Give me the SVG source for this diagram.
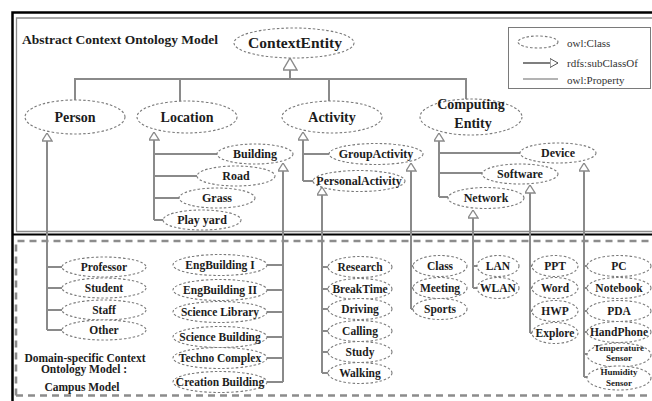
<svg xmlns="http://www.w3.org/2000/svg" width="652" height="401" viewBox="0 0 652 401">
  <style>
    .cls { fill: #ffffff; stroke: #7a7a7a; stroke-width: 1.1; stroke-dasharray: 2.5 2; }
    .t { font-family: "Liberation Serif", "Times New Roman", serif; font-weight: bold; fill: #1c1c1c; text-anchor: middle; }
    .big { font-size: 15.5px; }
    .mid { font-size: 14px; }
    .sm { font-size: 12px; }
    .xs { font-size: 11.5px; }
    .tiny { font-size: 9px; }
    .conn { stroke: #8a8a8a; stroke-width: 2; fill: none; }
    .leg { font-family: "Liberation Serif", "Times New Roman", serif; font-size: 11px; fill: #333333; }
  </style>
  <defs>
    <marker id="sub" markerUnits="userSpaceOnUse" markerWidth="9" markerHeight="11" refX="8.5" refY="5.5" orient="auto">
      <path d="M0.5,0.5 L8.5,5.5 L0.5,10.5 z" fill="#ffffff" stroke="#8a8a8a" stroke-width="1.3"/>
    </marker>
    <marker id="subL" markerUnits="userSpaceOnUse" markerWidth="13" markerHeight="15" refX="12.5" refY="7.5" orient="auto">
      <path d="M0.5,0.5 L12.5,7.5 L0.5,14.5 z" fill="#ffffff" stroke="#8a8a8a" stroke-width="1.4"/>
    </marker>
    <marker id="subLeg" markerUnits="userSpaceOnUse" markerWidth="9" markerHeight="10" refX="8.5" refY="5" orient="auto">
      <path d="M0.5,0.5 L8.5,5 L0.5,9.5 z" fill="#ffffff" stroke="#555555" stroke-width="1"/>
    </marker>
  </defs>

  <rect width="652" height="401" fill="#ffffff"/>

  <!-- frames -->
  <g id="frames">
    <path d="M12.5,401 V12.5 H652" fill="none" stroke="#000000" stroke-width="2.5"/>
    <path d="M12,234.5 H652" fill="none" stroke="#000000" stroke-width="2"/>
    <path d="M16.5,232 V18 H652 M16.5,231.5 H652" fill="none" stroke="#8c8c8c" stroke-width="1.3"/>
    <path d="M16,395.5 V241 H652 M16,395.5 H652" fill="none" stroke="#8c8c8c" stroke-width="2.6" stroke-dasharray="7 5"/>
    <text x="22" y="44" class="t" style="font-size:13.5px;text-anchor:start">Abstract Context Ontology Model</text>
  </g>

  <!-- legend -->
  <g id="legend">
    <rect x="508.5" y="27.5" width="142" height="61" fill="#ffffff" stroke="#7a7a7a" stroke-width="1"/>
    <ellipse class="cls" cx="538" cy="42" rx="20" ry="6"/>
    <text x="567" y="47" class="leg">owl:Class</text>
    <line x1="523" y1="63" x2="558" y2="63" stroke="#555555" stroke-width="1.3" marker-end="url(#subLeg)"/>
    <text x="567" y="67" class="leg">rdfs:subClassOf</text>
    <line x1="523" y1="79" x2="558" y2="79" stroke="#9a9a9a" stroke-width="1.5"/>
    <text x="567" y="84" class="leg">owl:Property</text>
  </g>

  <!-- connectors -->
  <g id="connectors">
    <!-- top level -->
    <path class="conn" d="M75,100 V79 H466 V100 M180,79 V101 M329,79 V101"/>
    <line class="conn" x1="290" y1="79" x2="290" y2="58" marker-end="url(#subL)"/>
    <!-- Person -->
    <line class="conn" x1="47" y1="330" x2="47" y2="133" marker-end="url(#sub)"/>
    <path class="conn" d="M47,267 H62 M47,288 H62 M47,310 H62 M47,330 H62"/>
    <!-- Location -->
    <line class="conn" x1="154" y1="220" x2="154" y2="132" marker-end="url(#sub)"/>
    <path class="conn" d="M154,154 H218 M154,176 H197 M154,198 H180 M154,220 H164"/>
    <line class="conn" x1="283" y1="382" x2="283" y2="163" marker-end="url(#sub)"/>
    <path class="conn" d="M267,265 H283 M267,290 H283 M267,312 H283 M267,337 H283 M267,358 H283 M267,382 H283"/>
    <!-- Activity -->
    <line class="conn" x1="303" y1="181" x2="303" y2="132" marker-end="url(#sub)"/>
    <path class="conn" d="M303,154 H330 M303,181 H314"/>
    <line class="conn" x1="411" y1="309" x2="411" y2="163" marker-end="url(#sub)"/>
    <path class="conn" d="M411,266 H414 M411,288 H414 M411,309 H414"/>
    <line class="conn" x1="322" y1="373" x2="322" y2="187" marker-end="url(#sub)"/>
    <path class="conn" d="M322,267 H329 M322,289 H329 M322,309 H329 M322,331 H329 M322,352 H329 M322,373 H329"/>
    <!-- Computing Entity -->
    <line class="conn" x1="439" y1="197" x2="439" y2="133" marker-end="url(#sub)"/>
    <path class="conn" d="M439,153 H520 M439,173 H482 M439,197 H448"/>
    <line class="conn" x1="584" y1="377" x2="584" y2="163" marker-end="url(#sub)"/>
    <path class="conn" d="M584,266 H588 M584,288 H588 M584,311 H588 M584,332 H588 M584,354 H588 M584,377 H588"/>
    <line class="conn" x1="530" y1="333" x2="530" y2="185" marker-end="url(#sub)"/>
    <path class="conn" d="M530,266 H533 M530,288 H533 M530,311 H533 M530,333 H533"/>
    <line class="conn" x1="473" y1="288" x2="473" y2="210" marker-end="url(#sub)"/>
    <path class="conn" d="M473,266 H478 M473,288 H478"/>
  </g>

  <!-- abstract classes -->
  <g id="n-context-entity"><ellipse class="cls" cx="294" cy="43" rx="60" ry="15"/><text x="295" y="48" class="t big">ContextEntity</text></g>
  <g id="n-person"><ellipse class="cls" cx="75" cy="117" rx="50" ry="17"/><text x="75" y="122" class="t mid">Person</text></g>
  <g id="n-location"><ellipse class="cls" cx="187" cy="117" rx="50" ry="16"/><text x="187" y="122" class="t mid">Location</text></g>
  <g id="n-activity"><ellipse class="cls" cx="332" cy="117" rx="50" ry="16"/><text x="332" y="122" class="t mid">Activity</text></g>
  <g id="n-computing-entity"><ellipse class="cls" cx="471" cy="117" rx="51" ry="18"/><text x="471" y="109" class="t mid">Computing</text><text x="473" y="128" class="t mid">Entity</text></g>

  <g id="n-building"><ellipse class="cls" cx="255" cy="154" rx="38" ry="10"/><text x="255" y="158" class="t sm">Building</text></g>
  <g id="n-road"><ellipse class="cls" cx="236" cy="176" rx="39" ry="10"/><text x="236" y="180" class="t sm">Road</text></g>
  <g id="n-grass"><ellipse class="cls" cx="217" cy="198" rx="38" ry="10"/><text x="217" y="202" class="t sm">Grass</text></g>
  <g id="n-play-yard"><ellipse class="cls" cx="202" cy="220" rx="39" ry="10"/><text x="202" y="224" class="t sm">Play yard</text></g>

  <g id="n-group-activity"><ellipse class="cls" cx="376" cy="154" rx="47" ry="10.5"/><text x="376" y="158" class="t sm">GroupActivity</text></g>
  <g id="n-personal-activity"><ellipse class="cls" cx="359" cy="181" rx="46" ry="10.5"/><text x="359" y="185" class="t sm">PersonalActivity</text></g>

  <g id="n-device"><ellipse class="cls" cx="558" cy="153" rx="38" ry="10"/><text x="558" y="157" class="t sm">Device</text></g>
  <g id="n-software"><ellipse class="cls" cx="520" cy="174" rx="38" ry="10"/><text x="520" y="178" class="t sm">Software</text></g>
  <g id="n-network"><ellipse class="cls" cx="486" cy="198" rx="38" ry="10.5"/><text x="486" y="202" class="t sm">Network</text></g>

  <!-- campus model classes -->
  <g id="n-professor"><ellipse class="cls" cx="104" cy="267" rx="42" ry="10"/><text x="104" y="271" class="t xs">Professor</text></g>
  <g id="n-student"><ellipse class="cls" cx="104" cy="288" rx="42" ry="10"/><text x="104" y="292" class="t xs">Student</text></g>
  <g id="n-staff"><ellipse class="cls" cx="104" cy="310" rx="42" ry="10"/><text x="104" y="314" class="t xs">Staff</text></g>
  <g id="n-other"><ellipse class="cls" cx="104" cy="330" rx="42" ry="10"/><text x="104" y="334" class="t xs">Other</text></g>

  <g id="n-domain-caption">
    <text x="85" y="362" class="t xs">Domain-specific Context</text>
    <text x="84" y="373" class="t xs">Ontology Model :</text>
    <text x="82" y="391" class="t xs">Campus Model</text>
  </g>

  <g id="n-engbuilding-1"><ellipse class="cls" cx="220" cy="265" rx="47" ry="10.5"/><text x="220" y="269" class="t xs">EngBuilding I</text></g>
  <g id="n-engbuilding-2"><ellipse class="cls" cx="220" cy="290" rx="47" ry="10.5"/><text x="220" y="294" class="t xs">EngBuilding II</text></g>
  <g id="n-science-library"><ellipse class="cls" cx="220" cy="312" rx="47" ry="10.5"/><text x="220" y="316" class="t xs">Science Library</text></g>
  <g id="n-science-building"><ellipse class="cls" cx="220" cy="337" rx="47" ry="10.5"/><text x="220" y="341" class="t xs">Science Building</text></g>
  <g id="n-techno-complex"><ellipse class="cls" cx="220" cy="358" rx="47" ry="10.5"/><text x="220" y="362" class="t xs">Techno Complex</text></g>
  <g id="n-creation-building"><ellipse class="cls" cx="220" cy="382" rx="47" ry="10.5"/><text x="220" y="386" class="t xs">Creation Building</text></g>

  <g id="n-research"><ellipse class="cls" cx="360" cy="267" rx="32" ry="10.5"/><text x="360" y="271" class="t xs">Research</text></g>
  <g id="n-breaktime"><ellipse class="cls" cx="360" cy="289" rx="32" ry="10.5"/><text x="360" y="293" class="t xs">BreakTime</text></g>
  <g id="n-driving"><ellipse class="cls" cx="360" cy="309" rx="32" ry="10.5"/><text x="360" y="313" class="t xs">Driving</text></g>
  <g id="n-calling"><ellipse class="cls" cx="360" cy="331" rx="32" ry="10.5"/><text x="360" y="335" class="t xs">Calling</text></g>
  <g id="n-study"><ellipse class="cls" cx="360" cy="352" rx="32" ry="10.5"/><text x="360" y="356" class="t xs">Study</text></g>
  <g id="n-walking"><ellipse class="cls" cx="360" cy="373" rx="32" ry="10.5"/><text x="360" y="377" class="t xs">Walking</text></g>

  <g id="n-class"><ellipse class="cls" cx="440" cy="266" rx="27" ry="10.5"/><text x="440" y="270" class="t xs">Class</text></g>
  <g id="n-meeting"><ellipse class="cls" cx="440" cy="288" rx="27" ry="10.5"/><text x="440" y="292" class="t xs">Meeting</text></g>
  <g id="n-sports"><ellipse class="cls" cx="440" cy="309" rx="27" ry="10.5"/><text x="440" y="313" class="t xs">Sports</text></g>

  <g id="n-lan"><ellipse class="cls" cx="498" cy="266" rx="21" ry="10.5"/><text x="498" y="270" class="t xs">LAN</text></g>
  <g id="n-wlan"><ellipse class="cls" cx="498" cy="288" rx="21" ry="10.5"/><text x="498" y="292" class="t xs">WLAN</text></g>

  <g id="n-ppt"><ellipse class="cls" cx="555" cy="266" rx="23" ry="10.5"/><text x="555" y="270" class="t xs">PPT</text></g>
  <g id="n-word"><ellipse class="cls" cx="555" cy="288" rx="23" ry="10.5"/><text x="555" y="292" class="t xs">Word</text></g>
  <g id="n-hwp"><ellipse class="cls" cx="555" cy="311" rx="23" ry="10.5"/><text x="555" y="315" class="t xs">HWP</text></g>
  <g id="n-explore"><ellipse class="cls" cx="555" cy="333" rx="23" ry="10.5"/><text x="555" y="337" class="t xs">Explore</text></g>

  <g id="n-pc"><ellipse class="cls" cx="619" cy="266" rx="32" ry="10.5"/><text x="619" y="270" class="t xs">PC</text></g>
  <g id="n-notebook"><ellipse class="cls" cx="619" cy="288" rx="32" ry="10.5"/><text x="619" y="292" class="t xs">Notebook</text></g>
  <g id="n-pda"><ellipse class="cls" cx="619" cy="311" rx="32" ry="10.5"/><text x="619" y="315" class="t xs">PDA</text></g>
  <g id="n-handphone"><ellipse class="cls" cx="619" cy="332" rx="32" ry="10.5"/><text x="619" y="336" class="t xs">HandPhone</text></g>
  <g id="n-temperature-sensor"><ellipse class="cls" cx="619" cy="355" rx="32" ry="12"/><text x="619" y="351" class="t tiny">Temperature</text><text x="619" y="361" class="t tiny">Sensor</text></g>
  <g id="n-humidity-sensor"><ellipse class="cls" cx="619" cy="378" rx="32" ry="12"/><text x="619" y="375" class="t tiny">Humidity</text><text x="619" y="386" class="t tiny">Sensor</text></g>
</svg>
